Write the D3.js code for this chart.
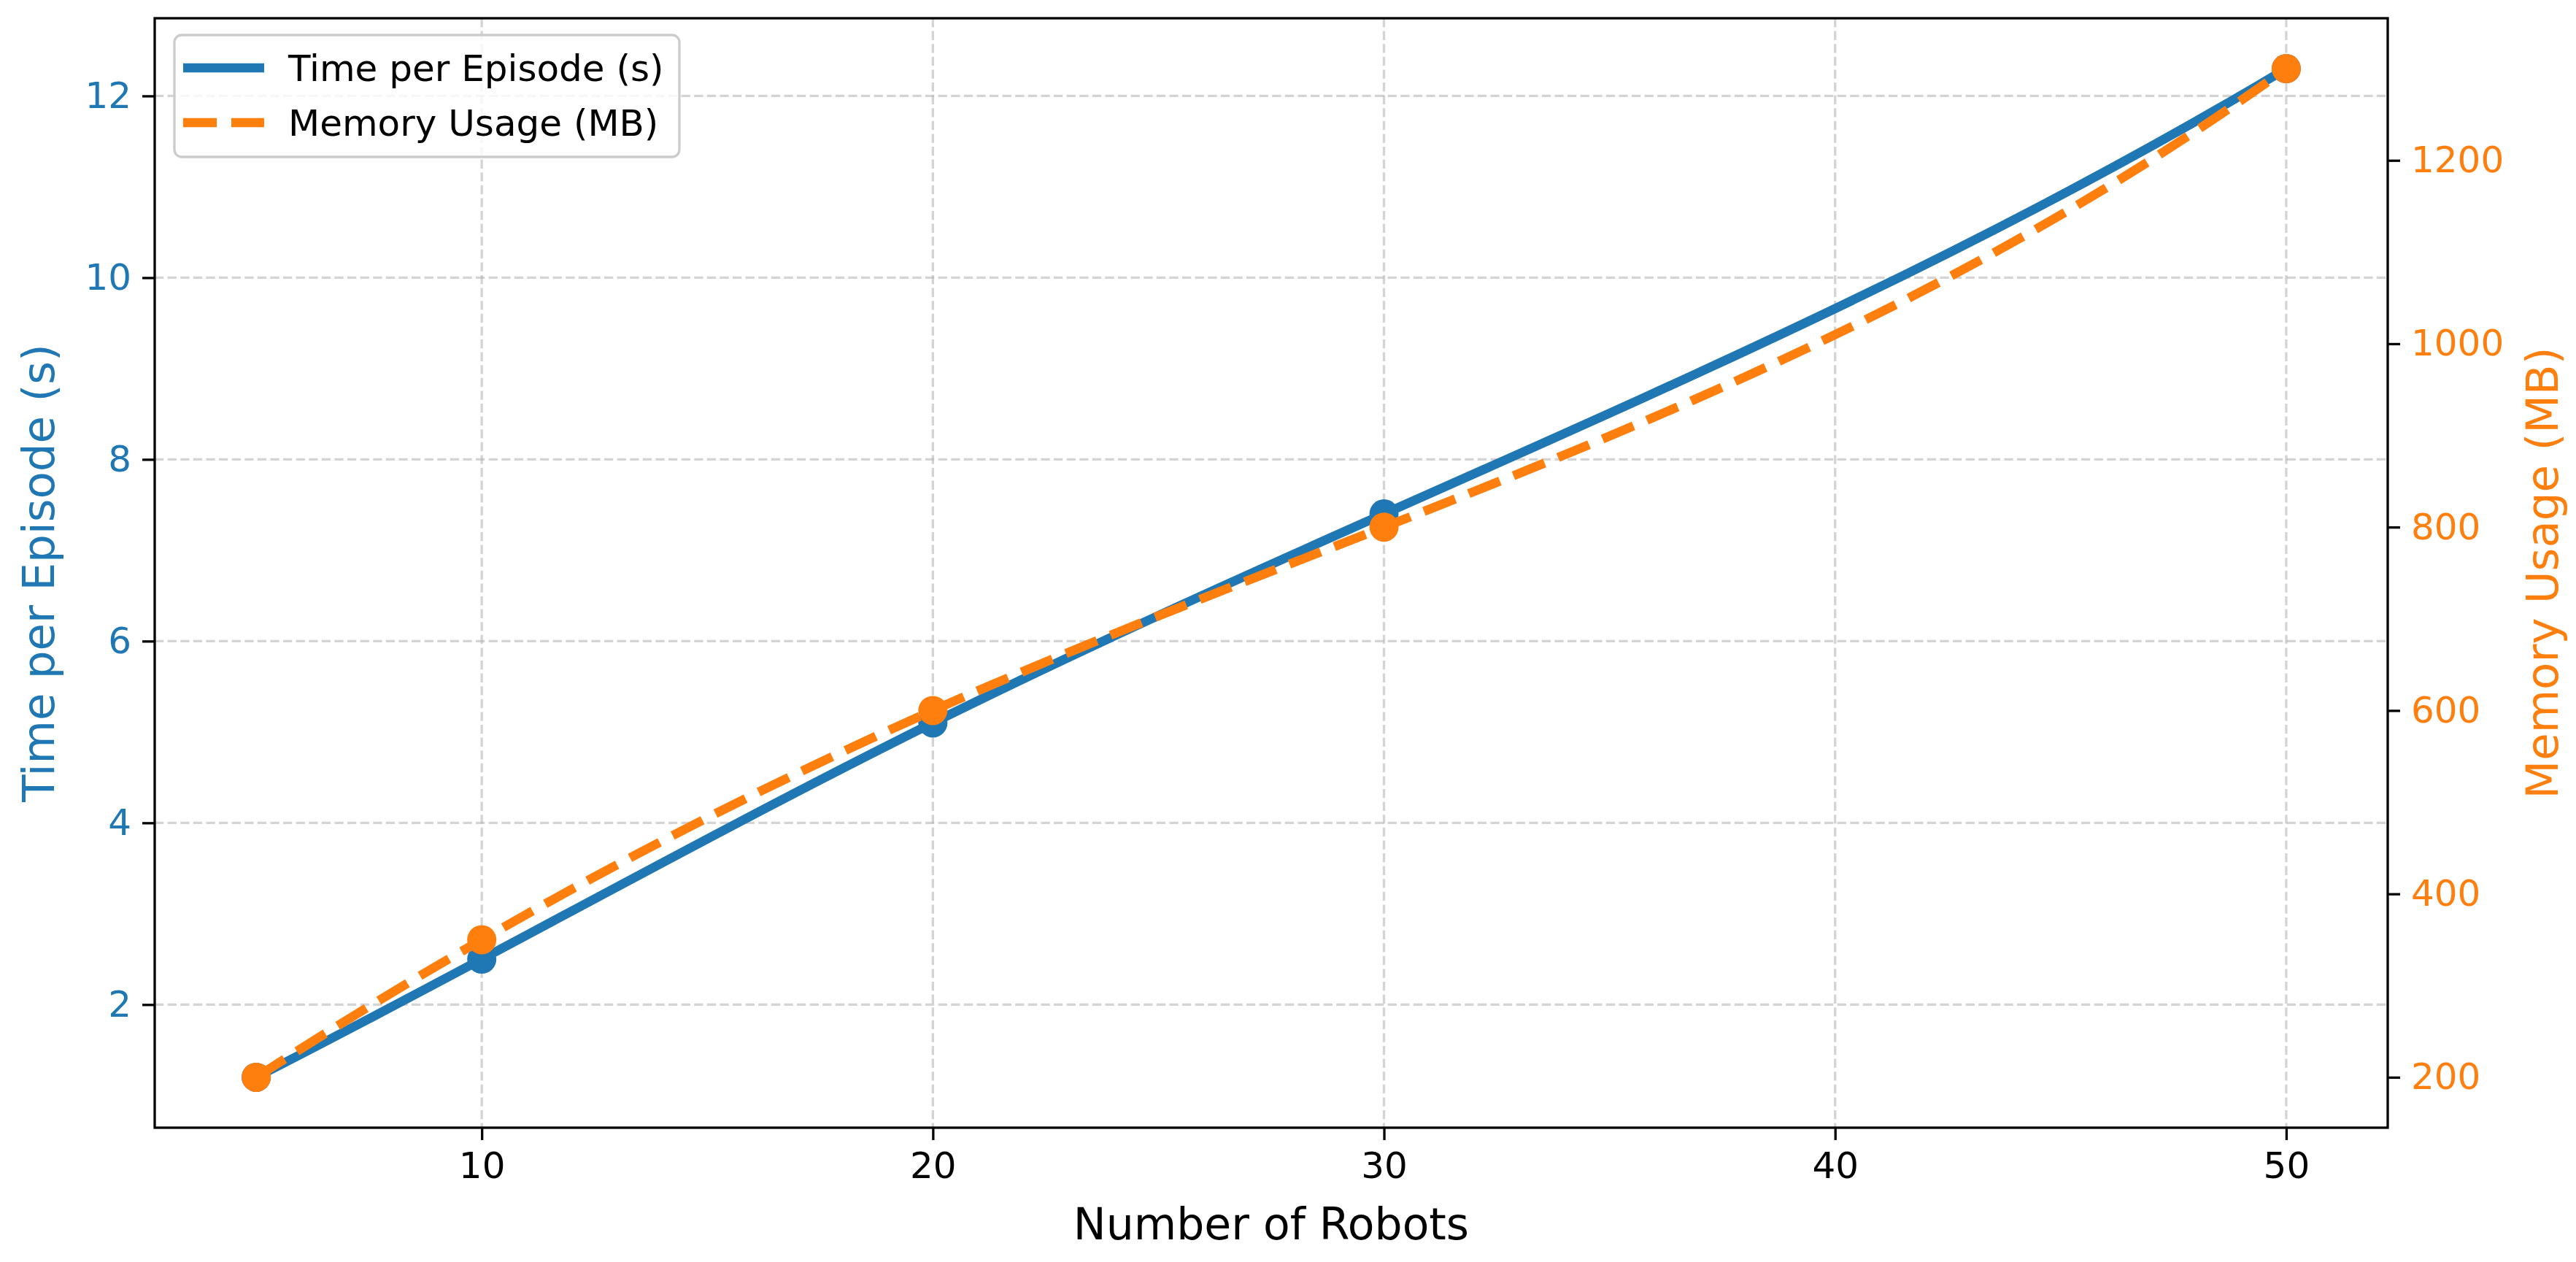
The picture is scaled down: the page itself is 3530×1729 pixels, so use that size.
<!DOCTYPE html>
<html>
<head>
<meta charset="utf-8">
<script src="https://cdn.jsdelivr.net/npm/d3@7"></script>
<style>
  body { margin: 0; background: #fff; }
  text { font-family: "DejaVu Sans", sans-serif; }
</style>
</head>
<body>
<div id="chart"></div>
<script>
/* global d3 */
// data
const robots = [5, 10, 20, 30, 50];
const timePerEpisode = [1.2, 2.5, 5.1, 7.4, 12.3];
const memoryUsage = [200, 350, 600, 800, 1300];

const xTicks = [10, 20, 30, 40, 50];
const timeTicks = [2, 4, 6, 8, 10, 12];
const memTicks = [200, 400, 600, 800, 1000, 1200];

const seriesNames = ["Time per Episode (s)", "Memory Usage (MB)"];
const blue = "#1f77b4", orange = "#ff7f0e";

const width = 3530, height = 1729;
const plot = {left: 212, right: 3272, top: 25, bottom: 1545};

// matplotlib style 5% margins
const padded = (vals) => {
  const [lo, hi] = d3.extent(vals), p = (hi - lo) * 0.05;
  return [lo - p, hi + p];
};

const x = d3.scaleLinear().domain(padded(robots)).range([plot.left, plot.right]);
const yTime = d3.scaleLinear().domain(padded(timePerEpisode)).range([plot.bottom, plot.top]);
const yMem = d3.scaleLinear().domain(padded(memoryUsage)).range([plot.bottom, plot.top]);

// not-a-knot cubic spline (same smoothing as scipy's interp spline)
function splineSlopes(xs, ys) {
  const n = xs.length, h = [], s = [];
  for (let i = 0; i < n - 1; i++) { h.push(xs[i + 1] - xs[i]); s.push((ys[i + 1] - ys[i]) / h[i]); }
  const A = d3.range(n).map(() => new Array(n).fill(0)), b = new Array(n).fill(0);
  let d = xs[2] - xs[0];
  A[0][0] = h[1]; A[0][1] = d;
  b[0] = ((h[0] + 2 * d) * h[1] * s[0] + h[0] * h[0] * s[1]) / d;
  for (let i = 1; i < n - 1; i++) {
    A[i][i - 1] = h[i]; A[i][i] = 2 * (h[i - 1] + h[i]); A[i][i + 1] = h[i - 1];
    b[i] = 3 * (h[i] * s[i - 1] + h[i - 1] * s[i]);
  }
  d = xs[n - 1] - xs[n - 3];
  A[n - 1][n - 2] = d; A[n - 1][n - 1] = h[n - 3];
  b[n - 1] = (h[n - 2] * h[n - 2] * s[n - 3] + (2 * d + h[n - 2]) * h[n - 3] * s[n - 2]) / d;
  for (let k = 0; k < n; k++) {
    let p = k;
    for (let i = k + 1; i < n; i++) if (Math.abs(A[i][k]) > Math.abs(A[p][k])) p = i;
    [A[k], A[p]] = [A[p], A[k]]; [b[k], b[p]] = [b[p], b[k]];
    for (let i = k + 1; i < n; i++) {
      const f = A[i][k] / A[k][k];
      for (let j = k; j < n; j++) A[i][j] -= f * A[k][j];
      b[i] -= f * b[k];
    }
  }
  const m = new Array(n);
  for (let i = n - 1; i >= 0; i--) {
    let t = b[i];
    for (let j = i + 1; j < n; j++) t -= A[i][j] * m[j];
    m[i] = t / A[i][i];
  }
  return m;
}

function CurveNotAKnot(context) { this._context = context; }
CurveNotAKnot.prototype = {
  areaStart() {}, areaEnd() {},
  lineStart() { this._x = []; this._y = []; },
  point(px, py) { this._x.push(+px); this._y.push(+py); },
  lineEnd() {
    const xs = this._x, ys = this._y, n = xs.length, c = this._context;
    if (!n) return;
    c.moveTo(xs[0], ys[0]);
    if (n < 4) { for (let i = 1; i < n; i++) c.lineTo(xs[i], ys[i]); return; }
    const m = splineSlopes(xs, ys);
    for (let i = 0; i < n - 1; i++) {
      const h = (xs[i + 1] - xs[i]) / 3;
      c.bezierCurveTo(xs[i] + h, ys[i] + m[i] * h, xs[i + 1] - h, ys[i + 1] - m[i + 1] * h, xs[i + 1], ys[i + 1]);
    }
  }
};
const curveNotAKnot = (context) => new CurveNotAKnot(context);

const svg = d3.select("#chart").append("svg")
    .attr("width", width)
    .attr("height", height);

svg.append("rect").attr("width", width).attr("height", height).attr("fill", "#fff");

// grid
const grid = svg.append("g")
    .attr("stroke", "#b0b0b0")
    .attr("stroke-opacity", 0.55)
    .attr("stroke-width", 3.3)
    .attr("stroke-dasharray", "12.3,5.3");
grid.selectAll(".gx").data(xTicks).join("line")
    .attr("x1", d => x(d)).attr("x2", d => x(d))
    .attr("y1", plot.top).attr("y2", plot.bottom);
grid.selectAll(".gy").data(timeTicks).join("line")
    .attr("x1", plot.left).attr("x2", plot.right)
    .attr("y1", d => yTime(d)).attr("y2", d => yTime(d));

const pts = (ys) => robots.map((r, i) => [r, ys[i]]);

// time series
svg.append("path")
    .attr("d", d3.line().x(d => x(d[0])).y(d => yTime(d[1])).curve(curveNotAKnot)(pts(timePerEpisode)))
    .attr("fill", "none")
    .attr("stroke", blue)
    .attr("stroke-width", 12.5)
    .attr("stroke-linejoin", "round")
    .attr("stroke-linecap", "square");
svg.append("g").selectAll("circle").data(pts(timePerEpisode)).join("circle")
    .attr("cx", d => x(d[0])).attr("cy", d => yTime(d[1])).attr("r", 20)
    .attr("fill", blue);

// memory series
svg.append("path")
    .attr("d", d3.line().x(d => x(d[0])).y(d => yMem(d[1])).curve(curveNotAKnot)(pts(memoryUsage)))
    .attr("fill", "none")
    .attr("stroke", orange)
    .attr("stroke-width", 12.5)
    .attr("stroke-linejoin", "round")
    .attr("stroke-dasharray", "46,20");
svg.append("g").selectAll("circle").data(pts(memoryUsage)).join("circle")
    .attr("cx", d => x(d[0])).attr("cy", d => yMem(d[1])).attr("r", 20)
    .attr("fill", orange);

// frame
svg.append("rect")
    .attr("x", plot.left).attr("y", plot.top)
    .attr("width", plot.right - plot.left).attr("height", plot.bottom - plot.top)
    .attr("fill", "none").attr("stroke", "#000").attr("stroke-width", 3.3);

function styleAxis(g, color) {
  g.select(".domain").remove();
  g.selectAll(".tick line").attr("stroke", "#000").attr("stroke-width", 3.3);
  g.selectAll(".tick text").attr("fill", color).attr("font-size", 50)
      .attr("font-family", "DejaVu Sans");
}

svg.append("g")
    .attr("transform", `translate(0,${plot.bottom})`)
    .call(d3.axisBottom(x).tickValues(xTicks).tickFormat(d3.format("d")).tickSize(17).tickPadding(16))
    .call(g => styleAxis(g, "#000"));

svg.append("g")
    .attr("transform", `translate(${plot.left},0)`)
    .call(d3.axisLeft(yTime).tickValues(timeTicks).tickFormat(d3.format("d")).tickSize(17).tickPadding(15))
    .call(g => styleAxis(g, blue));

svg.append("g")
    .attr("transform", `translate(${plot.right},0)`)
    .call(d3.axisRight(yMem).tickValues(memTicks).tickFormat(d3.format("d")).tickSize(17).tickPadding(15))
    .call(g => styleAxis(g, orange));

// axis titles
const midY = (plot.top + plot.bottom) / 2;
svg.append("text")
    .attr("x", (plot.left + plot.right) / 2).attr("y", 1698)
    .attr("text-anchor", "middle").attr("font-size", 60).attr("fill", "#000")
    .text("Number of Robots");
svg.append("text")
    .attr("transform", `translate(74,${midY}) rotate(-90)`)
    .attr("text-anchor", "middle").attr("font-size", 61).attr("fill", blue)
    .text(seriesNames[0]);
svg.append("text")
    .attr("transform", `translate(3505,${midY}) rotate(-90)`)
    .attr("text-anchor", "middle").attr("font-size", 61).attr("fill", orange)
    .text(seriesNames[1]);

// legend
const legend = svg.append("g");
legend.append("rect")
    .attr("x", 239).attr("y", 48).attr("width", 692).attr("height", 167).attr("rx", 10)
    .attr("fill", "#fff").attr("fill-opacity", 0.8)
    .attr("stroke", "#cccccc").attr("stroke-width", 3.3);
const items = [
  {name: seriesNames[0], color: blue, dash: null},
  {name: seriesNames[1], color: orange, dash: "46,20"}
];
items.forEach((it, i) => {
  const cy = 93 + i * 75;
  legend.append("line")
      .attr("x1", 251).attr("x2", 362).attr("y1", cy).attr("y2", cy)
      .attr("stroke", it.color).attr("stroke-width", 12.5)
      .attr("stroke-dasharray", it.dash);
  legend.append("text")
      .attr("x", 395).attr("y", cy + 18)
      .attr("font-size", 50).attr("fill", "#000")
      .text(it.name);
});
</script>
</body>
</html>
